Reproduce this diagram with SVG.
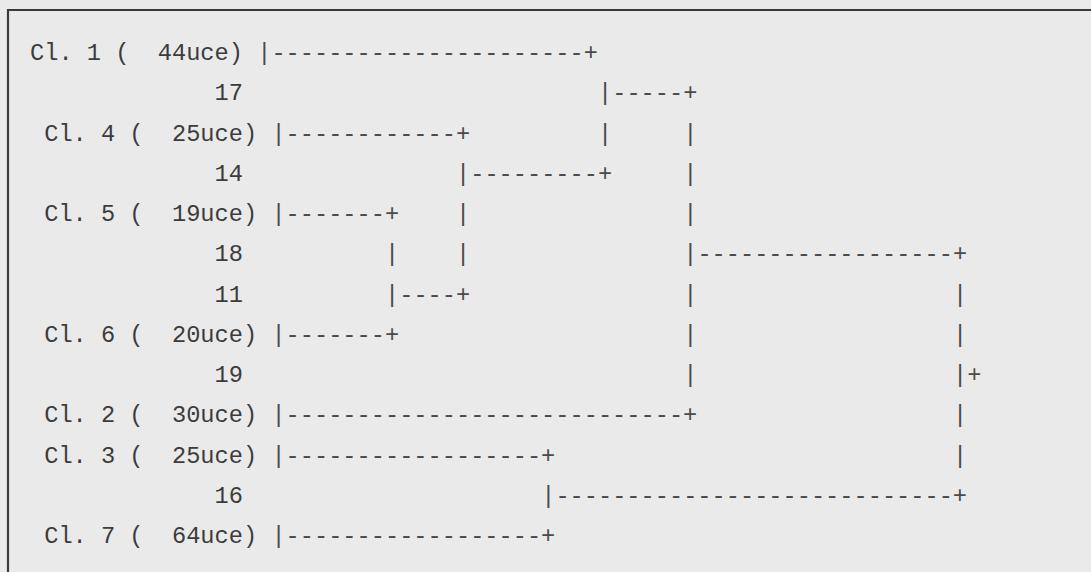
<svg xmlns="http://www.w3.org/2000/svg" width="1091" height="572" viewBox="0 0 1091 572" xml:space="preserve">
<style>
text{font-family:"Liberation Mono","Courier New",monospace;font-size:23.67px;fill:#3c3c3c;white-space:pre}
.c{fill:#4a4a4a}
</style>
<rect x="0" y="0" width="1091" height="572" fill="#eaeaea"/>
<path d="M8,572 V10 H1091" fill="none" stroke="#3a3a3a" stroke-width="2.2"/>
<g id="cl1"><text x="30" y="60">Cl. 1 (  44uce)</text></g>
<g id="n17"><text x="214.6" y="100.25">17</text></g>
<g id="cl4"><text x="44.2" y="140.5">Cl. 4 (  25uce)</text></g>
<g id="n14"><text x="214.6" y="180.75">14</text></g>
<g id="cl5"><text x="44.2" y="221">Cl. 5 (  19uce)</text></g>
<g id="n18"><text x="214.6" y="261.25">18</text></g>
<g id="n11"><text x="214.6" y="301.5">11</text></g>
<g id="cl6"><text x="44.2" y="341.75">Cl. 6 (  20uce)</text></g>
<g id="n19"><text x="214.6" y="382">19</text></g>
<g id="cl2"><text x="44.2" y="422.25">Cl. 2 (  30uce)</text></g>
<g id="cl3"><text x="44.2" y="462.5">Cl. 3 (  25uce)</text></g>
<g id="n16"><text x="214.6" y="502.75">16</text></g>
<g id="cl7"><text x="44.2" y="543">Cl. 7 (  64uce)</text></g>
<g id="connectors" class="conn">
<text class="c" x="257.2" y="60">|----------------------+</text>
<text class="c" x="598" y="100.25">|-----+</text>
<text class="c" x="271.4" y="140.5">|------------+</text>
<text class="c" x="598" y="140.5">|</text>
<text class="c" x="683.2" y="140.5">|</text>
<text class="c" x="456" y="180.75">|---------+</text>
<text class="c" x="683.2" y="180.75">|</text>
<text class="c" x="271.4" y="221">|-------+</text>
<text class="c" x="456" y="221">|</text>
<text class="c" x="683.2" y="221">|</text>
<text class="c" x="385" y="261.25">|</text>
<text class="c" x="456" y="261.25">|</text>
<text class="c" x="683.2" y="261.25">|------------------+</text>
<text class="c" x="385" y="301.5">|----+</text>
<text class="c" x="683.2" y="301.5">|</text>
<text class="c" x="953" y="301.5">|</text>
<text class="c" x="271.4" y="341.75">|-------+</text>
<text class="c" x="683.2" y="341.75">|</text>
<text class="c" x="953" y="341.75">|</text>
<text class="c" x="683.2" y="382">|</text>
<text class="c" x="953" y="382">|+</text>
<text class="c" x="271.4" y="422.25">|----------------------------+</text>
<text class="c" x="953" y="422.25">|</text>
<text class="c" x="271.4" y="462.5">|------------------+</text>
<text class="c" x="953" y="462.5">|</text>
<text class="c" x="541.2" y="502.75">|----------------------------+</text>
<text class="c" x="271.4" y="543">|------------------+</text>
</g>
</svg>
